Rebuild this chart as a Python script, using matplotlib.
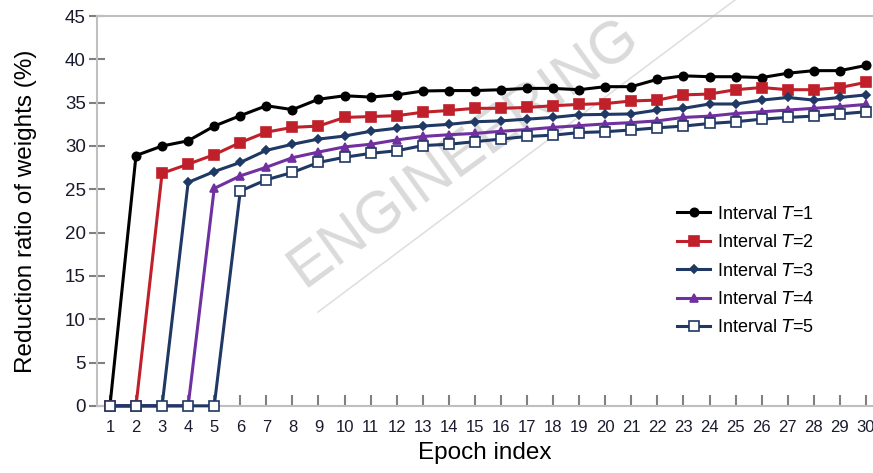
import matplotlib
matplotlib.use("Agg")
import matplotlib.pyplot as plt
from matplotlib.lines import Line2D
import numpy as np

plt.rcParams['font.family'] = ['Liberation Sans', 'DejaVu Sans']

epochs = list(range(1, 31))

t1 = [0, 28.9, 30.0, 30.6, 32.3, 33.5, 34.65, 34.2, 35.4, 35.8,
      35.65, 35.9, 36.35, 36.4, 36.4, 36.5, 36.65, 36.65, 36.5, 36.85,
      36.85, 37.7, 38.1, 38.0, 38.0, 37.9, 38.4, 38.7, 38.7, 39.3]
t2 = [0, 0, 26.85, 27.9, 29.0, 30.4, 31.6, 32.15, 32.3, 33.3,
      33.4, 33.5, 33.9, 34.1, 34.35, 34.35, 34.45, 34.65, 34.8, 34.9,
      35.2, 35.3, 35.9, 36.0, 36.5, 36.75, 36.5, 36.5, 36.75, 37.35]
t3 = [0, 0, 0, 25.8, 27.05, 28.1, 29.5, 30.2, 30.8, 31.15,
      31.7, 32.05, 32.3, 32.5, 32.8, 32.9, 33.1, 33.3, 33.6, 33.65,
      33.7, 34.15, 34.35, 34.85, 34.85, 35.3, 35.6, 35.3, 35.6, 35.9]
t4 = [0, 0, 0, 0, 25.1, 26.55, 27.55, 28.65, 29.3, 29.9,
      30.2, 30.7, 31.1, 31.3, 31.45, 31.7, 31.9, 32.15, 32.35, 32.55,
      32.7, 32.9, 33.3, 33.45, 33.75, 33.95, 34.15, 34.35, 34.55, 34.8]
t5 = [0, 0, 0, 0, 0, 24.8, 26.1, 26.95, 28.1, 28.7,
      29.15, 29.45, 30.05, 30.2, 30.5, 30.8, 31.1, 31.25, 31.55, 31.65,
      31.85, 32.1, 32.3, 32.6, 32.8, 33.1, 33.3, 33.45, 33.7, 33.95]

series = [t1, t2, t3, t4, t5]
labels = ["Interval $\\it{T}$=%d" % (i + 1) for i in range(5)]
colors = ['#000000', '#c0202a', '#1f3864', '#7030a0', '#1f3864']
markers = ['o', 's', 'D', '^', 's']
msizes = [6, 7, 4, 6, 7]

fig = plt.figure(figsize=(8.73, 4.73), dpi=100)
ax = fig.add_axes([0.111, 0.142, 0.889, 0.824])
ax.patch.set_alpha(0)

for i, ys in enumerate(series):
    face = 'white' if i == 4 else colors[i]
    ax.plot(epochs, ys, color=colors[i], marker=markers[i], markersize=msizes[i],
            markerfacecolor=face, markeredgecolor=colors[i],
            markeredgewidth=1.2, linewidth=2.2, label=labels[i], clip_on=False, zorder=3 + i)

ax.set_xlim(0.5, 30.27)
ax.set_ylim(0, 45)
ax.set_yticks(np.arange(0, 46, 5))
ax.set_xticks(epochs)
ax.set_xticklabels([str(e) for e in epochs], fontsize=12)

ax.spines['right'].set_visible(False)
for s in ['left', 'top', 'bottom']:
    ax.spines[s].set_color('#bfbfbf')
    ax.spines[s].set_linewidth(1.5)

ax.tick_params(axis='y', direction='inout', length=12, width=1.5, color='#808080',
               labelsize=13.5, labelcolor='#1a1a2e', pad=2)
ax.tick_params(axis='x', direction='in', length=8, width=1.5, color='#808080',
               labelcolor='#1a1a2e', pad=10)

ax.set_xlabel("Epoch index", fontsize=17.5, labelpad=5)
ax.set_ylabel("Reduction ratio of weights (%)", fontsize=17.5, labelpad=20)

# watermark
ax.text(0.348, 0.39, "ENGINEERING", transform=fig.transFigure, fontsize=43,
        color='#dadada', rotation=36, rotation_mode='anchor', ha='left', va='baseline',
        zorder=1, clip_on=False)
fig.add_artist(Line2D([318 / 873, 735 / 873], [1 - 312 / 473, 1.0], color='#e0e0e0',
                      linewidth=1.2, zorder=0))

ax.legend(loc='upper left', bbox_to_anchor=(0.727, 0.555), frameon=False, fontsize=13,
          handlelength=1.8, labelspacing=0.63, handletextpad=0.4)

fig.savefig("out.png", dpi=100)
